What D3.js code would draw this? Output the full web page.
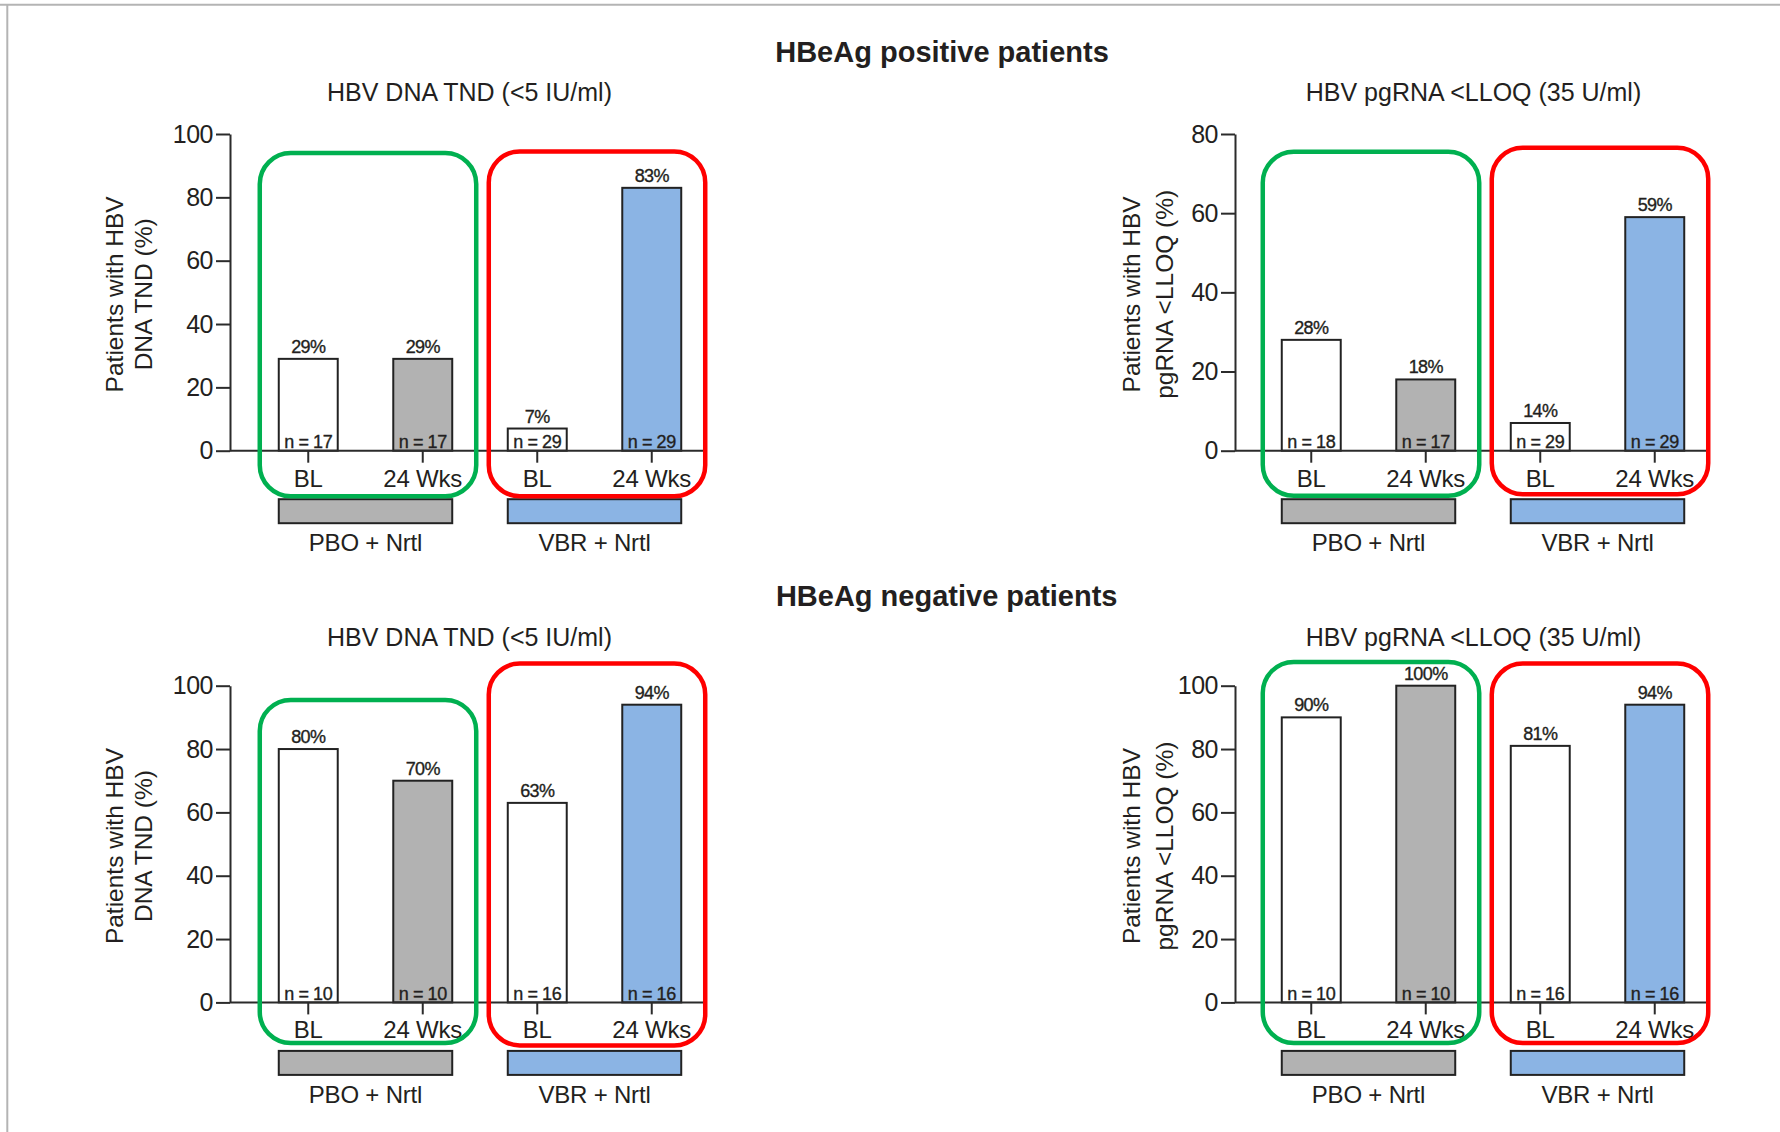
<!DOCTYPE html>
<meta charset="utf-8">
<style>

body {
  margin: 0;
  background: #fff;
  font-family: "Liberation Sans", Arial, sans-serif;
}

text {
  fill: #231f20;
}

.axis path,
.axis line {
  fill: none;
  stroke: #2b2b2b;
  stroke-width: 2;
}

.y.axis text {
  font-size: 25px;
  letter-spacing: -0.5px;
}

.x.axis text {
  font-size: 24px;
  letter-spacing: -0.2px;
}

/* the small labels in the original are printed heavy */
.pct, .nlab {
  stroke: #231f20;
  stroke-width: 0.35px;
}

</style>
<body>
<svg id="chart"></svg>
<script src="https://cdn.jsdelivr.net/npm/d3@7"></script>
<script>

// ---- data ----
var sections = ["HBeAg positive patients", "HBeAg negative patients"];
var subtitles = ["HBV DNA TND (<5 IU/ml)", "HBV pgRNA <LLOQ (35 U/ml)"];
var yLabels = [["Patients with HBV", "DNA TND (%)"], ["Patients with HBV", "pgRNA <LLOQ (%)"]];
var timepoints = ["BL", "24 Wks", "BL", "24 Wks"];
var arms = ["PBO + Nrtl", "VBR + Nrtl"];

var posDnaPct = [29, 29, 7, 83];
var posDnaN = [17, 17, 29, 29];
var posRnaPct = [28, 18, 14, 59];
var posRnaBar = [28, 18, 7, 59];   // the 14% bar is drawn at ~7 in the original
var posRnaN = [18, 17, 29, 29];
var negDnaPct = [80, 70, 63, 94];
var negDnaN = [10, 10, 16, 16];
var negRnaPct = [90, 100, 81, 94];
var negRnaN = [10, 10, 16, 16];

var yTicks100 = [0, 20, 40, 60, 80, 100];
var yTicks80 = [0, 20, 40, 60, 80];

// tops of the highlight boxes (green, red), in y units
var posDnaBoxTop = [94, 94.5];
var posRnaBoxTop = [75.5, 76.5];
var negDnaBoxTop = [95.5, 107];
var negRnaBoxTop = [107.5, 107];

var barFill = ["#ffffff", "#b2b2b2", "#ffffff", "#8bb4e4"];
var armFill = ["#b2b2b2", "#8bb4e4"];
var boxStroke = ["#00b050", "#ff0000"];

// ---- layout ----
var W = 1780, H = 1132;

var cols = [
  {axisX: 230, x0: 251, x1: 709, end: 704, lab: [-106.7, -78.3]},
  {axisX: 1235, x0: 1254, x1: 1712, end: 1708, lab: [-95, -61.7]}
];

var panels = [
  {row: 0, col: 0, top: 134, base: 450.7, yMax: 100, ticks: yTicks100, bars: posDnaPct, pct: posDnaPct, n: posDnaN, box: posDnaBoxTop, drop: [45.5, 45.5]},
  {row: 0, col: 1, top: 134, base: 450.7, yMax: 80, ticks: yTicks80, bars: posRnaBar, pct: posRnaPct, n: posRnaN, box: posRnaBoxTop, drop: [45, 43.5]},
  {row: 1, col: 0, top: 685.7, base: 1002.4, yMax: 100, ticks: yTicks100, bars: negDnaPct, pct: negDnaPct, n: negDnaN, box: negDnaBoxTop, drop: [40.5, 43]},
  {row: 1, col: 1, top: 685.7, base: 1002.4, yMax: 100, ticks: yTicks100, bars: negRnaPct, pct: negRnaPct, n: negRnaN, box: negRnaBoxTop, drop: [40.5, 40.5]}
];

var sectionX = [942, 946.7];
var sectionY = [61.7, 606];
var subtitleY = [101, 646];

var svg = d3.select("svg#chart")
    .attr("width", W)
    .attr("height", H);

// thin grey frame (top and left edges of the slide crop)
svg.append("line")
    .attr("x1", 0).attr("x2", W).attr("y1", 4.7).attr("y2", 4.7)
    .attr("stroke", "#b4b4b4").attr("stroke-width", 2);
svg.append("line")
    .attr("x1", 7.3).attr("x2", 7.3).attr("y1", 4).attr("y2", H)
    .attr("stroke", "#b4b4b4").attr("stroke-width", 2);

svg.selectAll(".section")
    .data(sections)
  .enter().append("text")
    .attr("class", "section")
    .attr("x", (d, i) => sectionX[i])
    .attr("y", (d, i) => sectionY[i])
    .attr("text-anchor", "middle")
    .style("font-size", "29px")
    .style("font-weight", "bold")
    .text(d => d);

panels.forEach(function(p) {
  var c = cols[p.col];
  var g = svg.append("g");

  var x = d3.scaleBand()
      .domain(d3.range(timepoints.length))
      .range([c.x0, c.x1])
      .paddingInner(0.485)
      .paddingOuter(0.2425);
  var y = d3.scaleLinear()
      .domain([0, p.yMax])
      .range([p.base, p.top]);
  var bw = x.bandwidth();

  // subtitle
  g.append("text")
      .attr("x", (c.axisX + c.x1) / 2)
      .attr("y", subtitleY[p.row])
      .attr("text-anchor", "middle")
      .style("font-size", "25px")
      .text(subtitles[p.col]);

  // y label, two lines (translate to each baseline)
  g.selectAll(".ylab")
      .data(yLabels[p.col])
    .enter().append("text")
      .attr("class", "ylab")
      .attr("transform", (d, i) => "translate(" + (c.axisX + c.lab[i]) + "," + ((p.base + p.top) / 2 + 2) + ") rotate(-90)")
      .attr("text-anchor", "middle")
      .style("font-size", "24.5px")
      .text(d => d);

  // bars
  g.selectAll(".bar")
      .data(p.bars)
    .enter().append("rect")
      .attr("class", "bar")
      .attr("x", (d, i) => x(i))
      .attr("y", d => y(d))
      .attr("width", bw)
      .attr("height", d => y(0) - y(d))
      .attr("fill", (d, i) => barFill[i])
      .attr("stroke", "#222")
      .attr("stroke-width", 2);

  // percent labels above bars
  g.selectAll(".pct")
      .data(p.pct)
    .enter().append("text")
      .attr("class", "pct")
      .attr("x", (d, i) => x(i) + bw / 2)
      .attr("y", (d, i) => y(p.bars[i]) - 6)
      .attr("text-anchor", "middle")
      .style("font-size", "18px")
      .style("letter-spacing", "-0.6px")
      .text(d => d + "%");

  // n labels at bar bottom
  g.selectAll(".nlab")
      .data(p.n)
    .enter().append("text")
      .attr("class", "nlab")
      .attr("x", (d, i) => x(i) + bw / 2)
      .attr("y", y(0) - 2.5)
      .attr("text-anchor", "middle")
      .style("font-size", "18px")
      .style("letter-spacing", "-0.4px")
      .text(d => "n = " + d);

  // axes
  g.append("g")
      .attr("class", "y axis")
      .attr("transform", "translate(" + c.axisX + ",0)")
      .call(d3.axisLeft(y).tickValues(p.ticks).tickSize(14).tickSizeOuter(0).tickPadding(3));

  g.append("line")
      .attr("class", "baseline")
      .attr("x1", c.axisX).attr("x2", c.end)
      .attr("y1", y(0)).attr("y2", y(0))
      .attr("stroke", "#2b2b2b").attr("stroke-width", 2);

  var xa = g.append("g")
      .attr("class", "x axis")
      .attr("transform", "translate(0," + y(0) + ")")
      .call(d3.axisBottom(x).tickSize(12).tickSizeOuter(0).tickPadding(7).tickFormat(i => timepoints[i]));
  xa.select(".domain").remove();

  // treatment arm bars under the axis
  arms.forEach(function(a, k) {
    var left = x(2 * k), right = x(2 * k + 1) + bw;
    g.append("rect")
        .attr("x", left)
        .attr("y", y(0) + 48.5)
        .attr("width", right - left)
        .attr("height", 24)
        .attr("fill", armFill[k])
        .attr("stroke", "#222")
        .attr("stroke-width", 2);
    g.append("text")
        .attr("x", (left + right) / 2)
        .attr("y", y(0) + 100.5)
        .attr("text-anchor", "middle")
        .style("font-size", "24px")
        .style("letter-spacing", "-0.2px")
        .text(a);

    // highlight box around each arm
    g.append("rect")
        .attr("x", left - 19)
        .attr("y", y(p.box[k]))
        .attr("width", right - left + 43)
        .attr("height", y(0) + p.drop[k] - y(p.box[k]))
        .attr("rx", 31)
        .attr("fill", "none")
        .attr("stroke", boxStroke[k])
        .attr("stroke-width", 4.5);
  });
});

</script>
